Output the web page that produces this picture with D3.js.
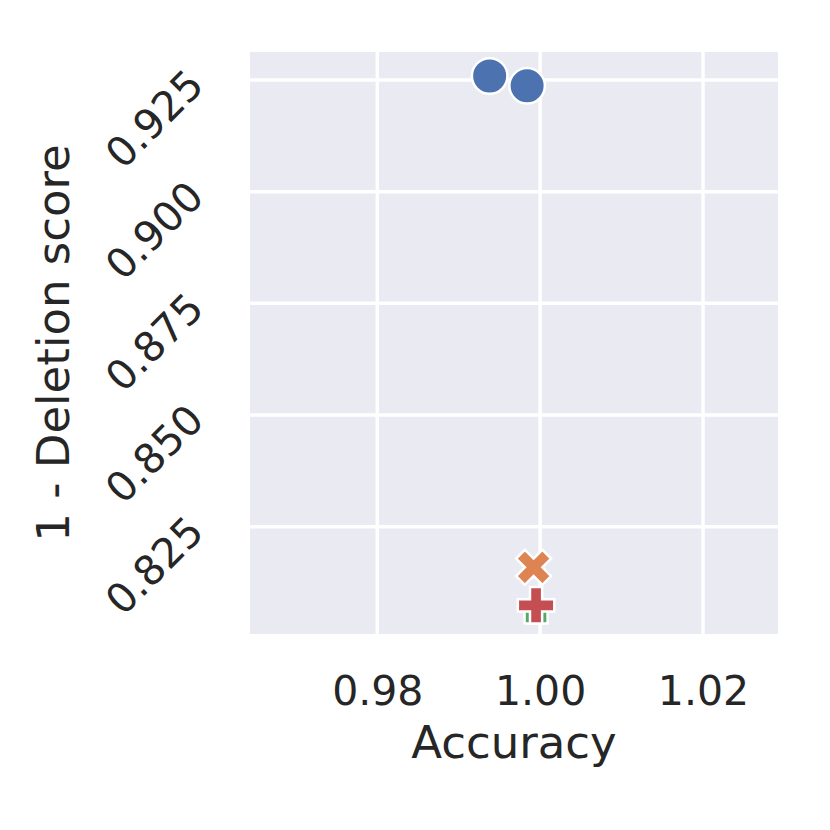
<!DOCTYPE html>
<html>
<head>
<meta charset="utf-8">
<script src="https://cdn.jsdelivr.net/npm/d3@7"></script>
<style>
body{margin:0;background:#fff;}
text{font-family:"DejaVu Sans",sans-serif;fill:#262626;}
</style>
</head>
<body>
<div id="chart"></div>
<script>
var w=830
var h=830
var plotLeft=250, plotRight=778, plotTop=52, plotBottom=634

//Data
var accuracy=[0.9938,0.9984,0.9992,0.9995,0.9995]
var deletion=[0.9259,0.9237,0.8159,0.8059,0.8074]
var group=[0,0,1,2,3]
var xTicks=[0.98,1.00,1.02]
var yTicks=[0.825,0.850,0.875,0.900,0.925]

var colors=["#4C72B0","#DD8452","#55A868","#C44E52"]
var symbols=[d3.symbolCircle,d3.symbolCross,d3.symbolSquare,d3.symbolCross]
var sizes=[990,765,529,740]
var angles=[0,45,0,0]

var svg=d3.select("#chart")
          .append("svg")
          .attr("width",w)
          .attr("height",h);

var xScale=d3.scaleLinear()
             .domain([0.96437,1.02921])
             .range([plotLeft,plotRight]);

var yScale=d3.scaleLinear()
             .domain([0.80098,0.93127])
             .range([plotBottom,plotTop]);

//Background
svg.append("rect")
   .attr("x",plotLeft)
   .attr("y",plotTop)
   .attr("width",plotRight-plotLeft)
   .attr("height",plotBottom-plotTop)
   .attr("fill","#EAEAF2");

//Grid
var grid=svg.append("g").attr("class","grid");
grid.selectAll(".vx")
    .data(xTicks)
    .enter()
    .append("line")
    .attr("x1",function(d){return xScale(d);})
    .attr("x2",function(d){return xScale(d);})
    .attr("y1",plotTop)
    .attr("y2",plotBottom)
    .attr("stroke","#fff")
    .attr("stroke-width",3.5);
grid.selectAll(".hy")
    .data(yTicks)
    .enter()
    .append("line")
    .attr("x1",plotLeft)
    .attr("x2",plotRight)
    .attr("y1",function(d){return yScale(d);})
    .attr("y2",function(d){return yScale(d);})
    .attr("stroke","#fff")
    .attr("stroke-width",3.5);

//Axes
var xAxis=d3.axisBottom(xScale)
            .tickValues(xTicks)
            .tickSize(0)
            .tickFormat(d3.format(".2f"));
var gx=svg.append("g")
          .attr("transform","translate(0,"+plotBottom+")")
          .call(xAxis);
gx.select(".domain").remove();
gx.selectAll("text")
  .attr("font-size",41)
  .attr("font-family","DejaVu Sans")
  .attr("fill","#262626")
  .attr("dy",null)
  .attr("y",71);

var yAxis=d3.axisLeft(yScale)
            .tickValues(yTicks)
            .tickSize(0)
            .tickFormat(d3.format(".3f"));
var gy=svg.append("g")
          .attr("transform","translate("+plotLeft+",0)")
          .call(yAxis);
gy.select(".domain").remove();
gy.selectAll("text")
  .attr("font-size",41)
  .attr("font-family","DejaVu Sans")
  .attr("fill","#262626")
  .attr("x",0)
  .attr("dy",null)
  .attr("dominant-baseline","central")
  .attr("text-anchor","end")
  .attr("transform","translate(-54,-3) rotate(-45)");

//Points
var points=svg.append("g").attr("class","points");
points.selectAll("path")
      .data(accuracy)
      .enter()
      .append("path")
      .attr("d",function(d,i){return d3.symbol().type(symbols[group[i]]).size(sizes[group[i]])();})
      .attr("transform",function(d,i){
          return "translate("+xScale(d)+","+yScale(deletion[i])+") rotate("+angles[group[i]]+")";
      })
      .attr("fill",function(d,i){return colors[group[i]];})
      .attr("stroke","#fff")
      .attr("stroke-width",2.5);

//Axis labels
svg.append("text")
   .attr("x",(plotLeft+plotRight)/2)
   .attr("y",758)
   .attr("text-anchor","middle")
   .attr("font-size",45)
   .text("Accuracy");

svg.append("text")
   .attr("transform","translate(69,"+((plotTop+plotBottom)/2)+") rotate(-90)")
   .attr("text-anchor","middle")
   .attr("font-size",45)
   .text("1 - Deletion score");
</script>
</body>
</html>
